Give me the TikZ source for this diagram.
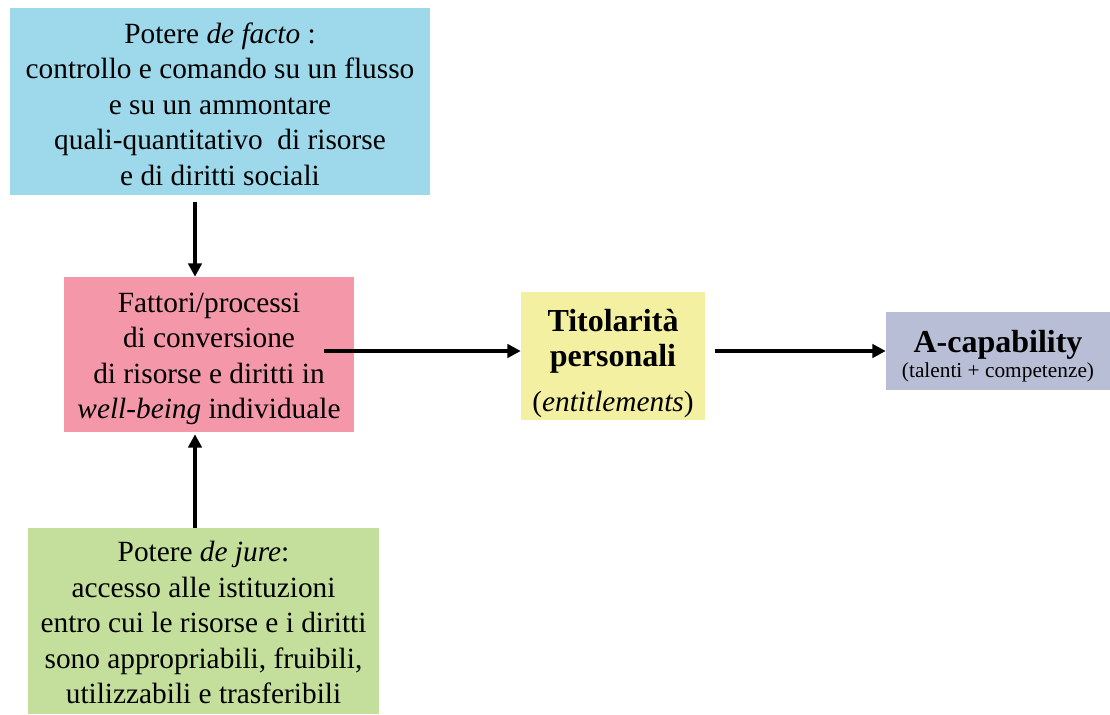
\documentclass[tikz,border=0pt]{standalone}
\usepackage{fontspec}
\setmainfont{Liberation Serif}
\usepackage{xcolor}
\usetikzlibrary{arrows.meta, calc}

\definecolor{factoblue}{RGB}{157,217,234}
\definecolor{convpink}{RGB}{244,151,169}
\definecolor{juregreen}{RGB}{196,223,155}
\definecolor{titolyellow}{RGB}{243,240,161}
\definecolor{acaplav}{RGB}{184,190,213}

\tikzset{
    box/.style={draw=none, inner sep=0pt, align=center, font=\fontsize{22}{26.6}\selectfont},
    arr/.style={line width=2.5pt, -{Triangle[length=10pt, width=10pt]}}
}

\begin{document}
\begin{tikzpicture}[x=0.75pt, y=-0.75pt]
        \useasboundingbox (0,0) rectangle (1110,714);
        \node[box, fill=factoblue, minimum width=315pt, minimum height=140.25pt] (facto) at (220,101.5)
            {\rule{0pt}{19.5pt}Potere \textit{de facto} :\\ controllo e comando su un flusso\\ e su un ammontare\\ quali-quantitativo\ \ di risorse\\ e di diritti sociali};
        \node[box, fill=convpink, minimum width=217.5pt, minimum height=116.25pt] (conv) at (209,354.5)
            {\rule{0pt}{21.5pt}Fattori/processi\\ di conversione\\ di risorse e diritti in\\ \textit{well-being} individuale};
        \node[box, fill=juregreen, minimum width=263.25pt, minimum height=139.5pt] (jure) at (203.5,621)
            {\rule{0pt}{18pt}Potere \textit{de jure}:\\ accesso alle istituzioni\\ entro cui le risorse e i diritti\\ sono appropriabili, fruibili,\\ utilizzabili e trasferibili};
        \node[box, fill=titolyellow, minimum width=138pt, minimum height=96pt] (titol) at (613,356)
            {\rule{0pt}{28pt}{\fontsize{24}{26}\selectfont\bfseries Titolarità}\\ {\fontsize{24}{26}\selectfont\bfseries personali}\\[7pt] (\textit{entitlements})};
        \node[box, fill=acaplav, minimum width=168pt, minimum height=58.5pt, font=\fontsize{16}{23}\selectfont] (acap) at (998,351)
            {\rule{0pt}{24pt}{\fontsize{24}{26}\selectfont\bfseries A-capability}\\[-4pt] (talenti + competenze)};

        \coordinate (factoout) at (195,202);
        \coordinate (convout) at (324,351);
        \coordinate (titolout) at (715,351);

        \draw[arr] (factoout) -- (factoout |- conv.north);
        \draw[arr] (jure.north -| factoout) -- ($(conv.south -| factoout)+(0,2)$);
        \draw[arr] (convout) -- (convout -| titol.west);
        \draw[arr] (titolout) -- (titolout -| acap.west);
    \end{tikzpicture}
\end{document}
